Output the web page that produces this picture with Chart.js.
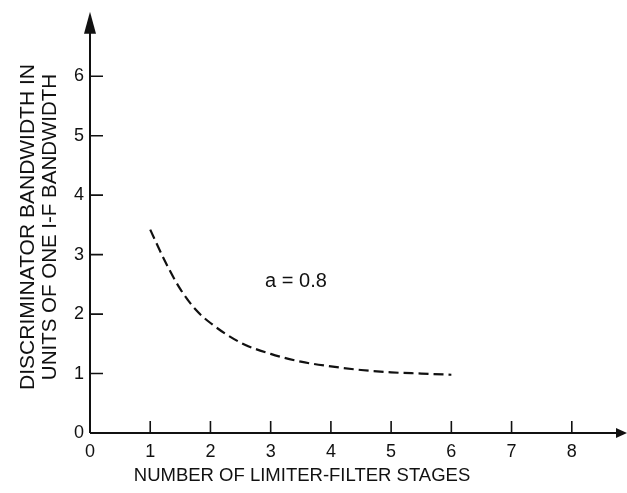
<!DOCTYPE html>
<html>
<head>
<meta charset="utf-8">
<script src="https://cdn.jsdelivr.net/npm/chart.js@4"></script>
<style>
  html, body { margin: 0; padding: 0; background: #fff; }
  #wrap { width: 627px; height: 493px; }
</style>
</head>
<body>
<div id="wrap"><canvas id="chart"></canvas></div>
<script>
// --- Data ---
const stages    = [1, 1.25, 1.5, 1.75, 2, 2.5, 3, 3.5, 4, 4.5, 5, 5.5, 6];
const bandwidth = [3.42, 2.88, 2.42, 2.08, 1.85, 1.52, 1.33, 1.2, 1.12, 1.06, 1.02, 1.0, 0.98];
const xTicks    = [0, 1, 2, 3, 4, 5, 6, 7, 8];
const yTicks    = [0, 1, 2, 3, 4, 5, 6];
const xTitle    = "NUMBER OF LIMITER-FILTER STAGES";
const yTitle    = ["DISCRIMINATOR BANDWIDTH IN", "UNITS OF ONE I-F BANDWIDTH"];
const noteText  = "a = 0.8";
const notePos   = { x: 3.42, y: 2.55 };

const INK  = "#111";
const FONT = "'Liberation Sans', Arial, sans-serif";

// --- Plugin: axes with arrows, inside ticks, titles, note ---
const decorPlugin = {
  id: "decor",
  afterDraw(chart) {
    const { ctx, chartArea: a, scales: { x, y } } = chart;
    ctx.save();
    ctx.strokeStyle = INK;
    ctx.fillStyle = INK;

    // axis lines
    ctx.lineWidth = 2;
    ctx.beginPath();
    ctx.moveTo(a.left, a.bottom);
    ctx.lineTo(a.left, a.top + 10);
    ctx.moveTo(a.left, a.bottom);
    ctx.lineTo(a.right - 8, a.bottom);
    ctx.stroke();

    // arrowheads
    ctx.beginPath();
    ctx.moveTo(a.left, a.top - 5);
    ctx.lineTo(a.left - 6, a.top + 17);
    ctx.lineTo(a.left + 6, a.top + 17);
    ctx.closePath();
    ctx.fill();
    ctx.beginPath();
    ctx.moveTo(a.right + 1, a.bottom);
    ctx.lineTo(a.right - 10, a.bottom - 5);
    ctx.lineTo(a.right - 10, a.bottom + 5);
    ctx.closePath();
    ctx.fill();

    // tick marks pointing inward
    ctx.lineWidth = 1.6;
    ctx.beginPath();
    xTicks.filter(v => v > 0).forEach(v => {
      const px = x.getPixelForValue(v);
      ctx.moveTo(px, a.bottom);
      ctx.lineTo(px, a.bottom - 12);
    });
    yTicks.filter(v => v > 0).forEach(v => {
      const py = y.getPixelForValue(v);
      ctx.moveTo(a.left, py);
      ctx.lineTo(a.left + 13, py);
    });
    ctx.stroke();

    // x title
    ctx.font = "18.5px " + FONT;
    ctx.textAlign = "center";
    ctx.textBaseline = "middle";
    ctx.fillText(xTitle, 302, 476);

    // y title (two lines, rotated)
    ctx.save();
    ctx.translate(0, 227);
    ctx.rotate(-Math.PI / 2);
    ctx.font = "21px " + FONT;
    ctx.fillText(yTitle[0], 0, 28);
    ctx.font = "20.5px " + FONT;
    ctx.fillText(yTitle[1], 0, 50);
    ctx.restore();

    // note
    ctx.font = "20px " + FONT;
    ctx.fillText(noteText, x.getPixelForValue(notePos.x), y.getPixelForValue(notePos.y));
    ctx.restore();
  }
};

// --- Chart ---
new Chart(document.getElementById("chart"), {
  type: "line",
  data: {
    datasets: [{
      data: stages.map((s, i) => ({ x: s, y: bandwidth[i] })),
      borderColor: INK,
      borderWidth: 2.2,
      borderDash: [10, 5],
      pointRadius: 0,
      cubicInterpolationMode: "monotone",
      fill: false
    }]
  },
  options: {
    responsive: true,
    maintainAspectRatio: false,
    animation: false,
    layout: { padding: { left: 0, top: 11, right: 1, bottom: 0 } },
    plugins: { legend: { display: false }, tooltip: { enabled: false } },
    scales: {
      x: {
        type: "linear",
        min: 0,
        max: 8.9,
        afterFit: s => { s.height = 60; },
        afterBuildTicks: s => { s.ticks = xTicks.map(v => ({ value: v })); },
        grid: { display: false, drawTicks: false },
        border: { display: false },
        ticks: {
          padding: 8,
          color: INK,
          font: { family: FONT, size: 18 },
          maxRotation: 0,
          autoSkip: false
        }
      },
      y: {
        type: "linear",
        min: 0,
        max: 7,
        afterFit: s => { s.width = 90; },
        afterBuildTicks: s => { s.ticks = yTicks.map(v => ({ value: v })); },
        grid: { display: false, drawTicks: false },
        border: { display: false },
        ticks: {
          padding: 6,
          color: INK,
          font: { family: FONT, size: 18 },
          autoSkip: false
        }
      }
    }
  },
  plugins: [decorPlugin]
});
</script>
</body>
</html>
